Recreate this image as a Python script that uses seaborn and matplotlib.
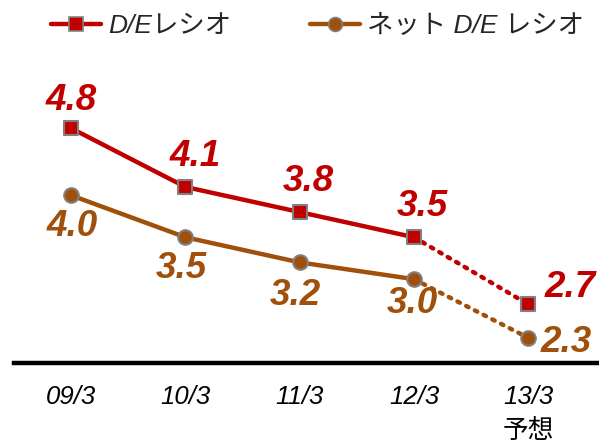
import matplotlib
matplotlib.use("Agg")
import matplotlib.pyplot as plt
from matplotlib.lines import Line2D
import seaborn as sns
import pandas as pd

categories = ['09/3', '10/3', '11/3', '12/3', '13/3\n予想']
de_ratio = [4.8, 4.1, 3.8, 3.5, 2.7]
net_de_ratio = [4.0, 3.5, 3.2, 3.0, 2.3]
series_names = ['D/Eレシオ', 'ネット D/E レシオ']

RED = '#C00000'
BROWN = '#A0500A'
EDGE = '#808080'

sns.set_style('white')
plt.rcParams['font.family'] = ['Liberation Sans', 'Noto Sans CJK JP', 'DejaVu Sans']

fig = plt.figure(figsize=(5.99, 4.46), dpi=100)
ax = fig.add_axes([14/599, 83/446, (598-14)/599, 363/446])

pos = list(range(len(categories)))
df = pd.DataFrame({'x': pos, 'de': de_ratio, 'net': net_de_ratio})
actual = df.iloc[:4]
forecast = df.iloc[3:]

for col, color, marker in [('de', RED, 's'), ('net', BROWN, 'o')]:
    sns.lineplot(data=actual, x='x', y=col, ax=ax, color=color, linewidth=3.2, zorder=2)
    sns.lineplot(data=forecast, x='x', y=col, ax=ax, color=color, linewidth=3.2,
                 linestyle=(0, (0.6, 1.6)), dash_capstyle='round', zorder=2)
    sns.scatterplot(data=df, x='x', y=col, ax=ax, color=color, marker=marker,
                    s=110, edgecolor=EDGE, linewidth=1.5, zorder=3)

# value labels
de_off = [(0, 28), (10, 30), (9, 31), (8, 31), (42, 17)]
net_off = [(1, -31), (-4, -31), (-4, -33), (-2, -24), (38, -5)]
lab_font = dict(fontsize=26.5, fontweight='bold', fontstyle='italic', ha='center', va='center')
for i in pos:
    ax.annotate(f'{de_ratio[i]:.1f}', (pos[i], de_ratio[i]), xytext=de_off[i],
                textcoords='offset pixels', color=RED, **lab_font)
    ax.annotate(f'{net_de_ratio[i]:.1f}', (pos[i], net_de_ratio[i]), xytext=net_off[i],
                textcoords='offset pixels', color=BROWN, **lab_font)

ax.set_xlim(-0.5, 4.61)
ax.set_ylim(2.0, 6.33)
ax.set_xticks(pos)
ax.set_xticklabels(categories, fontsize=18.5, fontstyle='italic')
for t in ax.get_xticklabels():
    t.set_linespacing(1.5)
ax.set_yticks([])
ax.set_xlabel('')
ax.set_ylabel('')
ax.tick_params(axis='x', length=0, pad=16, colors='black')
for s in ['left', 'right', 'top']:
    ax.spines[s].set_visible(False)
ax.spines['bottom'].set_linewidth(3.2)
ax.spines['bottom'].set_color('black')

handles = [
    Line2D([], [], color=RED, linewidth=3.2, marker='s', markersize=10,
           markeredgecolor=EDGE, markeredgewidth=1.2),
    Line2D([], [], color=BROWN, linewidth=3.2, marker='o', markersize=10,
           markeredgecolor=EDGE, markeredgewidth=1.2),
]
fig.legend(handles, series_names, loc='center', bbox_to_anchor=(0.53, 0.942),
           ncol=2, frameon=False, handlelength=1.9, handletextpad=0.25,
           columnspacing=3.0, borderpad=0, borderaxespad=0,
           prop=dict(size=19, style='italic'))

fig.savefig('out.png', dpi=100)
